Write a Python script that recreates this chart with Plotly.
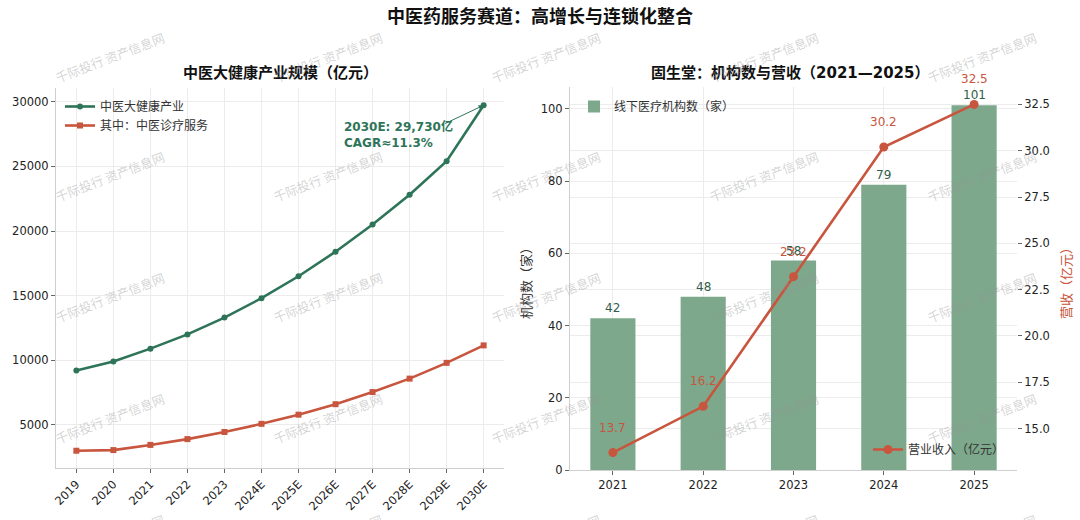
import plotly.graph_objects as go

# data
years = ["2019", "2020", "2021", "2022", "2023", "2024E", "2025E",
         "2026E", "2027E", "2028E", "2029E", "2030E"]
tcm_health = [9200, 9900, 10900, 12000, 13300, 14800, 16500,
              18400, 20500, 22800, 25400, 29730]
tcm_clinic = [3000, 3050, 3450, 3900, 4450, 5080, 5790,
              6600, 7540, 8580, 9800, 11150]

gst_years = ["2021", "2022", "2023", "2024", "2025"]
gst_clinics = [42, 48, 58, 79, 101]
gst_revenue = [13.7, 16.2, 23.2, 30.2, 32.5]

GREEN = "#2e7458"
RED = "#c8553d"
BAR = "#7da88c"
FONT = "DejaVu Sans, Noto Sans CJK SC"
W, H = 1080, 520

fig = go.Figure()

# left chart: industry size
fig.add_trace(go.Scatter(
    x=years, y=tcm_health, name="中医大健康产业", mode="lines+markers",
    line=dict(color=GREEN, width=2.6), marker=dict(symbol="circle", size=6),
    xaxis="x", yaxis="y", legend="legend"))
fig.add_trace(go.Scatter(
    x=years, y=tcm_clinic, name="其中：中医诊疗服务", mode="lines+markers",
    line=dict(color=RED, width=2.6), marker=dict(symbol="square", size=6),
    xaxis="x", yaxis="y", legend="legend"))

# right chart: clinics (bars) + revenue (line)
fig.add_trace(go.Bar(
    x=gst_years, y=gst_clinics, name="线下医疗机构数（家）", width=0.5,
    marker=dict(color=BAR, line=dict(width=0)),
    xaxis="x2", yaxis="y2", legend="legend2"))
fig.add_trace(go.Scatter(
    x=gst_years, y=gst_revenue, name="营业收入（亿元）", mode="lines+markers",
    line=dict(color=RED, width=2.6), marker=dict(symbol="circle", size=9),
    xaxis="x2", yaxis="y3", legend="legend3"))

annotations = []


def paper_text(px, py, text, size, color, angle=0, family=FONT):
    return dict(x=px / W, y=1 - py / H, xref="paper", yref="paper",
                xanchor="center", yanchor="middle", text=text,
                showarrow=False, textangle=angle,
                font=dict(size=size, color=color, family=family))


# value labels (category index on the x2 axis)
for i, v in enumerate(gst_clinics):
    annotations.append(dict(x=i, y=v, xref="x2", yref="y2", text=str(v),
                            showarrow=False, yshift=10,
                            xanchor="center", yanchor="middle",
                            font=dict(size=12, color="#2f5d4a", family=FONT)))
for i, v in enumerate(gst_revenue):
    annotations.append(dict(x=i, y=v, xref="x2", yref="y3", text=f"{v:.1f}",
                            showarrow=False, yshift=25,
                            xanchor="center", yanchor="middle",
                            font=dict(size=12, color=RED, family=FONT)))

# 2030E callout
annotations.append(dict(x=len(years) - 1, y=tcm_health[-1], xref="x", yref="y",
                        text="", showarrow=True, ax=-40, ay=19,
                        arrowhead=2, arrowsize=1, arrowwidth=1, arrowcolor=GREEN))
annotations.append(dict(x=342 / W, y=1 - 134 / H, xref="paper", yref="paper",
                        text=f"<b>2030E: {tcm_health[-1]:,}亿<br>CAGR≈11.3%</b>",
                        showarrow=False, xanchor="left", yanchor="middle",
                        align="left", font=dict(size=12, color=GREEN, family=FONT)))

# subplot titles
annotations.append(paper_text(280, 73, "<b>中医大健康产业规模（亿元）</b>", 15, "#111"))
annotations.append(paper_text(790, 73, "<b>固生堂：机构数与营收（2021—2025）</b>", 15, "#111"))

# axis titles of right chart
annotations.append(paper_text(526, 280, "机构数（家）", 13, "#333", angle=-90))
annotations.append(paper_text(1066, 280, "营收（亿元）", 13, RED, angle=-90))

# watermark tiles
wm_cols = [109, 327, 545, 763, 981]
wm_rows = [57, 176, 297, 418, 539]
for py in wm_rows:
    for px in wm_cols:
        annotations.append(paper_text(px, py, "千际投行 资产信息网", 12.5,
                                      "rgba(150,150,150,0.42)", angle=-21,
                                      family="Noto Sans CJK SC"))

axis_common = dict(showgrid=True, gridcolor="#ececec", gridwidth=1,
                   ticks="outside", ticklen=4, tickcolor="#666",
                   tickfont=dict(size=11.5, color="#222", family=FONT),
                   zeroline=False, automargin=False)

fig.update_layout(
    width=W, height=H,
    margin=dict(l=0, r=0, t=0, b=0, autoexpand=False),
    paper_bgcolor="white", plot_bgcolor="white",
    font=dict(family=FONT),
    title=dict(text="<b>中医药服务赛道：高增长与连锁化整合</b>",
               x=0.5, xanchor="center", y=1 - 17 / H, yanchor="middle",
               font=dict(size=18, color="#111", family=FONT)),
    xaxis=dict(domain=[56 / W, 504 / W], anchor="y", type="category",
               range=[-0.55, len(years) - 0.45], tickangle=-45,
               showline=True, linecolor="#cfcfcf", **axis_common),
    yaxis=dict(domain=[1 - 468 / H, 1 - 88 / H], anchor="x",
               range=[1664, 31066], dtick=5000, tick0=0, tickformat="d",
               showline=True, linecolor="#cfcfcf", **axis_common),
    xaxis2=dict(domain=[570 / W, 1017 / W], anchor="y2", type="category",
                range=[-0.475, len(gst_years) - 0.525],
                showline=True, linecolor="#cfcfcf", **axis_common),
    yaxis2=dict(domain=[1 - 470 / H, 1 - 87 / H], anchor="x2",
                range=[0, max(gst_clinics) * 1.05], dtick=20,
                showline=True, linecolor="#cfcfcf", **axis_common),
    yaxis3=dict(overlaying="y2", side="right", anchor="x2",
                range=[12.76, 33.44], dtick=2.5, tick0=0, tickformat=".1f",
                showline=False, **axis_common),
    legend=dict(x=60 / W, y=1 - 92 / H, xanchor="left", yanchor="top",
                bgcolor="rgba(255,255,255,0)", font=dict(size=12, color="#333")),
    legend2=dict(x=574 / W, y=1 - 92 / H, xanchor="left", yanchor="top",
                 bgcolor="rgba(255,255,255,0)", font=dict(size=12, color="#333")),
    legend3=dict(x=1010 / W, y=1 - 464 / H, xanchor="right", yanchor="bottom",
                 bgcolor="rgba(255,255,255,0)", font=dict(size=12, color="#333")),
    annotations=annotations,
    showlegend=True,
)

fig.write_html("out.html", config={"displayModeBar": False},
               post_script="document.body.style.margin='0';")
